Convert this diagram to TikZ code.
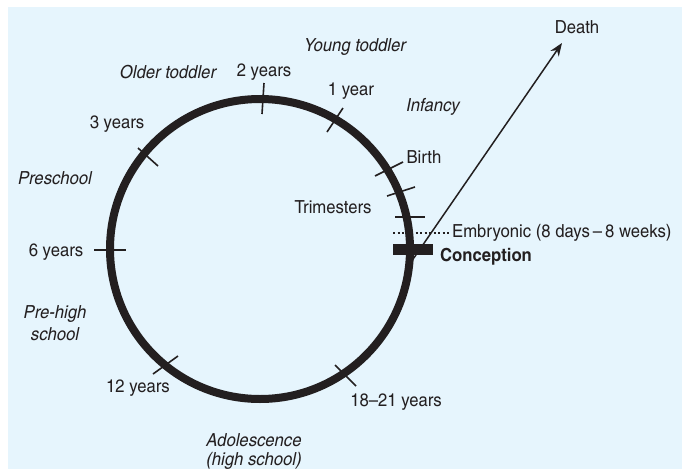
\documentclass[tikz,border=0pt]{standalone}
\usepackage{fontspec}
\setmainfont{texgyreheroscn-regular.otf}[FakeStretch=1.13, BoldFont=texgyreheroscn-bold.otf, ItalicFont=texgyreheroscn-italic.otf]
\usetikzlibrary{arrows.meta}
\definecolor{bgblue}{HTML}{E6F5FD}
\definecolor{ink}{HTML}{231F20}
\begin{document}
\begin{tikzpicture}[x=1pt,y=-1pt,
  lbl/.style={inner sep=0pt, text=ink, font=\fontsize{18}{20}\selectfont},
  ilbl/.style={lbl, font=\fontsize{18}{22}\selectfont\itshape},
  tick/.style={draw=ink, line width=1.6pt},
  ring/.style={draw=ink, line width=8pt}]
\useasboundingbox (0,0) rectangle (686,469);
\fill[white] (0,0) rectangle (686,469);
\fill[bgblue] (8,7) rectangle (682,469);
% life cycle ring
\coordinate (O) at (260,249);
\draw[ring] (O) circle[radius=150pt];
% ticks
\draw[tick] (264,83) -- (262,114);
\draw[tick] (327,132) -- (343,108);
\draw[tick] (138,148) -- (158,166);
\draw[tick] (94,250) -- (126,250);
\draw[tick] (153,374) -- (178,356);
\draw[tick] (335,365) -- (356,386);
\draw[tick] (375,176) -- (403,162);
\draw[tick] (387,196) -- (415,187);
\draw[tick] (395,217) -- (425,217);
\draw[draw=ink, line width=1.3pt, dash pattern=on 2pt off 2.5pt] (393,233) -- (450,233);
\fill[ink] (393,244) rectangle (433,255);
% death arrow
\coordinate (start) at (409,265);
\coordinate (tip) at (562,43);
\draw[draw=ink, line width=1.5pt, -{Stealth[length=13pt,width=10pt]}] (start) -- (tip);
% labels
\node[lbl] (death) at (577,27) {Death};
\node[ilbl] (young) at (355,47) {Young toddler};
\node[ilbl] (older) at (168,72) {Older toddler};
\node[lbl] (y2) at (264,72) {2 years};
\node[lbl] (y1) at (351,91) {1 year};
\node[ilbl] (infancy) at (433,107) {Infancy};
\node[lbl] (y3) at (117,124) {3 years};
\node[lbl] (birth) at (424,157) {Birth};
\node[ilbl] (preschool) at (55,178) {Preschool};
\node[lbl] (trim) at (333,207) {Trimesters};
\node[lbl, anchor=west] (emb) at (452,233) {Embryonic (8 days\,–\,8 weeks)};
\node[lbl, anchor=west, font=\fontsize{18}{20}\selectfont\bfseries] (conc) at (440,257) {Conception};
\node[lbl] (y6) at (56,252) {6 years};
\node[ilbl, align=center] (prehigh) at (55,323) {Pre-high\\school};
\node[lbl] (y12) at (138,388) {12 years};
\node[lbl] (y18) at (396,402) {18–21 years};
\node[ilbl, align=center, font=\fontsize{18}{19}\selectfont\itshape] (adol) at (254,452) {Adolescence\\(high school)};
\end{tikzpicture}
\end{document}
